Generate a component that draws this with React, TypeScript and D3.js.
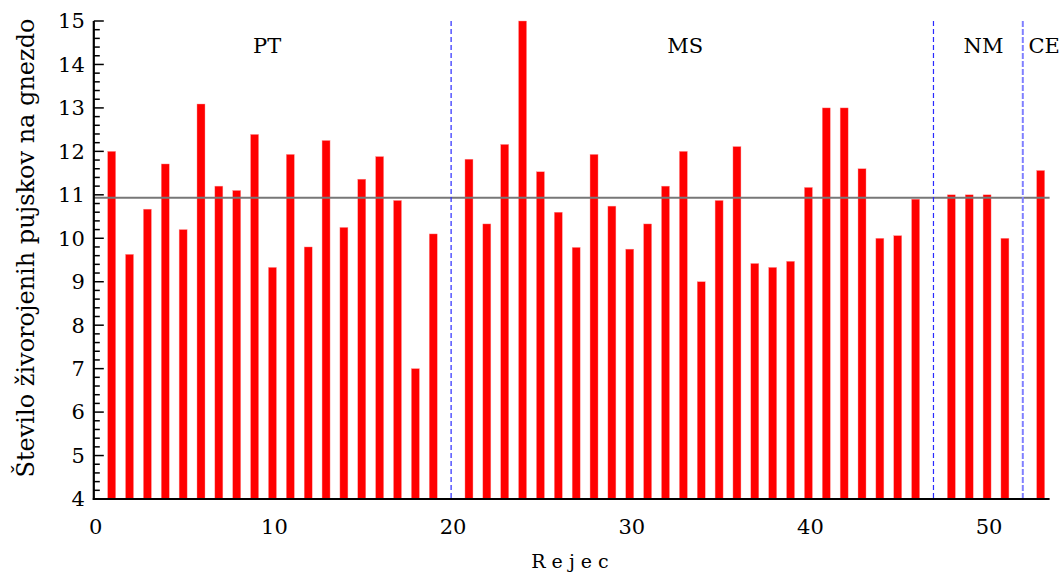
import React from "react";
import * as d3 from "d3";

const ptIds = [1,2,3,4,5,6,7,8,9,10,11,12,13,14,15,16,17,18,19];
const ptValues = [12.0,9.63,10.67,11.71,10.2,13.09,11.2,11.1,12.39,9.33,11.93,9.8,12.25,10.25,11.36,11.88,10.87,7.0,10.1];
const msIds = [21,22,23,24,25,26,27,28,29,30,31,32,33,34,35,36,37,38,39,40,41,42,43,44,45,46];
const msValues = [11.82,10.33,12.16,15.0,11.53,10.6,9.79,11.93,10.74,9.75,10.33,11.2,12.0,9.0,10.87,12.11,9.42,9.33,9.47,11.17,13.0,13.0,11.6,10.0,10.06,10.9];
const nmIds = [48,49,50,51];
const nmValues = [11.0,11.0,11.0,10.0];
const ceIds = [53];
const ceValues = [11.56];

const groupLabels = ["PT", "MS", "NM", "CE"];
const groupLabelX = [9.7, 33.1, 49.8, 53.2];
const dividers = [20, 47, 52];
const meanValue = 10.93;
const xTicks = [0, 10, 20, 30, 40, 50];
const yTicks = [4, 5, 6, 7, 8, 9, 10, 11, 12, 13, 14, 15];
const yLabel = "Število živorojenih pujskov na gnezdo";
const xLabel = "R e j e c";

export default function App() {
  const width = 1060, height = 574;
  const left = 93.8, right = 1049.6, top = 21, bottom = 499;
  const x = d3.scaleLinear().domain([0, 53.5]).range([left, right]);
  const y = d3.scaleLinear().domain([4, 15]).range([bottom, top]);
  const bars = [
    ...ptIds.map((id, i) => ({ id, v: ptValues[i] })),
    ...msIds.map((id, i) => ({ id, v: msValues[i] })),
    ...nmIds.map((id, i) => ({ id, v: nmValues[i] })),
    ...ceIds.map((id, i) => ({ id, v: ceValues[i] })),
  ];
  const minorTicks = d3.range(4, 15.001, 0.2).map((v) => +v.toFixed(2));
  const bw = 8;
  const tstyle = (size: number): React.CSSProperties => ({
    fontFamily: "'DejaVu Serif', serif",
    fontSize: `${size}px`,
  });
  return (
    <div style={{ position: "absolute", left: 0, top: 0, width, height, background: "#fff" }}>
      <svg width={width} height={height} viewBox={`0 0 ${width} ${height}`}>
        {bars.map((b) => (
          <rect key={b.id} x={x(b.id) - bw / 2} y={y(b.v)} width={bw} height={y(4) - y(b.v)} fill="#ff0000" stroke="#ff9999" strokeWidth={0.4} />
        ))}
        <line x1={x(0)} x2={x(53.5)} y1={y(meanValue)} y2={y(meanValue)} stroke="#777" strokeWidth={2} />
        {dividers.map((d, i) => (
          <line key={d} x1={x(d)} x2={x(d)} y1={top} y2={bottom}
            stroke={i === 2 ? "#8080ff" : "#2a2aff"} strokeWidth={i === 2 ? 2 : 1.2}
            strokeDasharray={i === 2 ? "6,2" : "5,3"} />
        ))}
        {minorTicks.map((t) => {
          const major = Math.abs(t - Math.round(t)) < 1e-6;
          return <line key={t} x1={left} x2={left + (major ? 10 : 6)} y1={y(t)} y2={y(t)} stroke="#000" strokeWidth={1.5} />;
        })}
        <line x1={left} x2={left} y1={top} y2={bottom + 1} stroke="#000" strokeWidth={2.2} />
        <line x1={left - 1} x2={right} y1={bottom} y2={bottom} stroke="#000" strokeWidth={2.2} />
        {yTicks.map((t) => (
          <text key={t} style={tstyle(21)} x={left - 9} y={y(t)} dy="0.35em" textAnchor="end" fill="#000">{t}</text>
        ))}
        {xTicks.map((t) => (
          <text key={t} style={tstyle(21)} x={x(t) + 2} y={534} textAnchor="middle" fill="#000">{t}</text>
        ))}
        {groupLabels.map((g, i) => (
          <text key={g} style={tstyle(21)} x={x(groupLabelX[i])} y={53} textAnchor="middle" fill="#000">{g}</text>
        ))}
        <text style={tstyle(24)} transform={`translate(34,${(top + bottom) / 2 - 12}) rotate(-90)`} textAnchor="middle" fill="#000">{yLabel}</text>
        <text style={tstyle(19)} x={570} y={568} textAnchor="middle" fill="#000">{xLabel}</text>
      </svg>
    </div>
  );
}
